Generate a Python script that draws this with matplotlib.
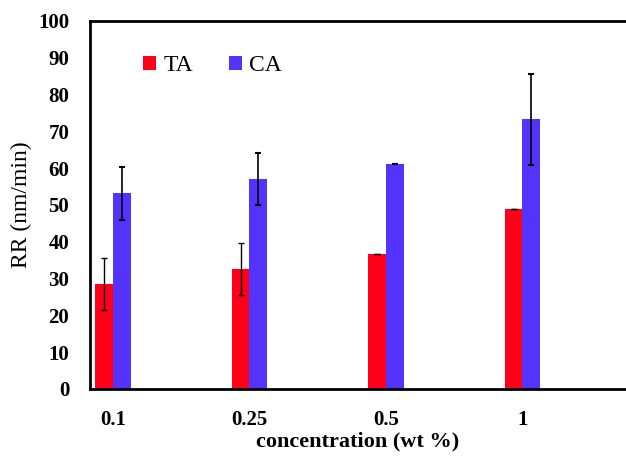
import matplotlib
matplotlib.use("Agg")
import matplotlib.pyplot as plt
import numpy as np

categories = ["0.1", "0.25", "0.5", "1"]
ta_values = [28.5, 32.6, 36.8, 48.8]
ta_errors = [7.0, 7.0, 0.0, 0.0]
ca_values = [53.2, 57.0, 61.1, 73.3]
ca_errors = [7.2, 7.1, 0.0, 12.3]
yticks = [0, 10, 20, 30, 40, 50, 60, 70, 80, 90, 100]

plt.rcParams['font.family'] = ['Liberation Serif', 'DejaVu Serif']

fig = plt.figure(figsize=(6.26, 4.57), dpi=100)
ax = fig.add_axes([90/626, 68/457, (626-90)/626, (389-21)/457])

x = np.arange(len(categories))
w = 0.13
red = '#FF0018'
blue = '#5533FF'
ax.bar(x - 0.064, ta_values, width=w, color=red, label='TA', zorder=2)
ax.bar(x + 0.064, ca_values, width=w, color=blue, label='CA', zorder=2)
ax.errorbar(x - 0.064, ta_values, yerr=ta_errors, fmt='none', ecolor='black',
            elinewidth=1.0, capsize=2.5, capthick=1.0, zorder=3)
ax.errorbar(x + 0.064, ca_values, yerr=ca_errors, fmt='none', ecolor='black',
            elinewidth=1.2, capsize=2.5, capthick=1.5, zorder=3)

ax.set_xlim(-0.1685, 3.758)
ax.set_ylim(0, 100)
ax.set_yticks(yticks)
ax.set_yticklabels([str(v) for v in yticks], fontsize=15, fontweight='bold')
ax.set_xticks(x)
ax.set_xticklabels(categories, fontsize=15, fontweight='bold')
ax.tick_params(axis='both', length=0)
ax.tick_params(axis='y', pad=15)
ax.tick_params(axis='x', pad=15)

for s in ['left', 'top', 'bottom']:
    ax.spines[s].set_linewidth(2)
    ax.spines[s].set_color('black')
ax.spines['right'].set_visible(False)

ax.set_xlabel('concentration (wt %)', fontsize=16, fontweight='bold', labelpad=1)
ax.set_ylabel('RR (nm/min)', fontsize=17, labelpad=4)

leg = ax.legend(loc='upper left', bbox_to_anchor=(0.06, 0.965), ncol=2, frameon=False,
                fontsize=17, handlelength=0.55, handleheight=0.55, handletextpad=0.3,
                columnspacing=1.5)

fig.savefig('out.png', dpi=100)
